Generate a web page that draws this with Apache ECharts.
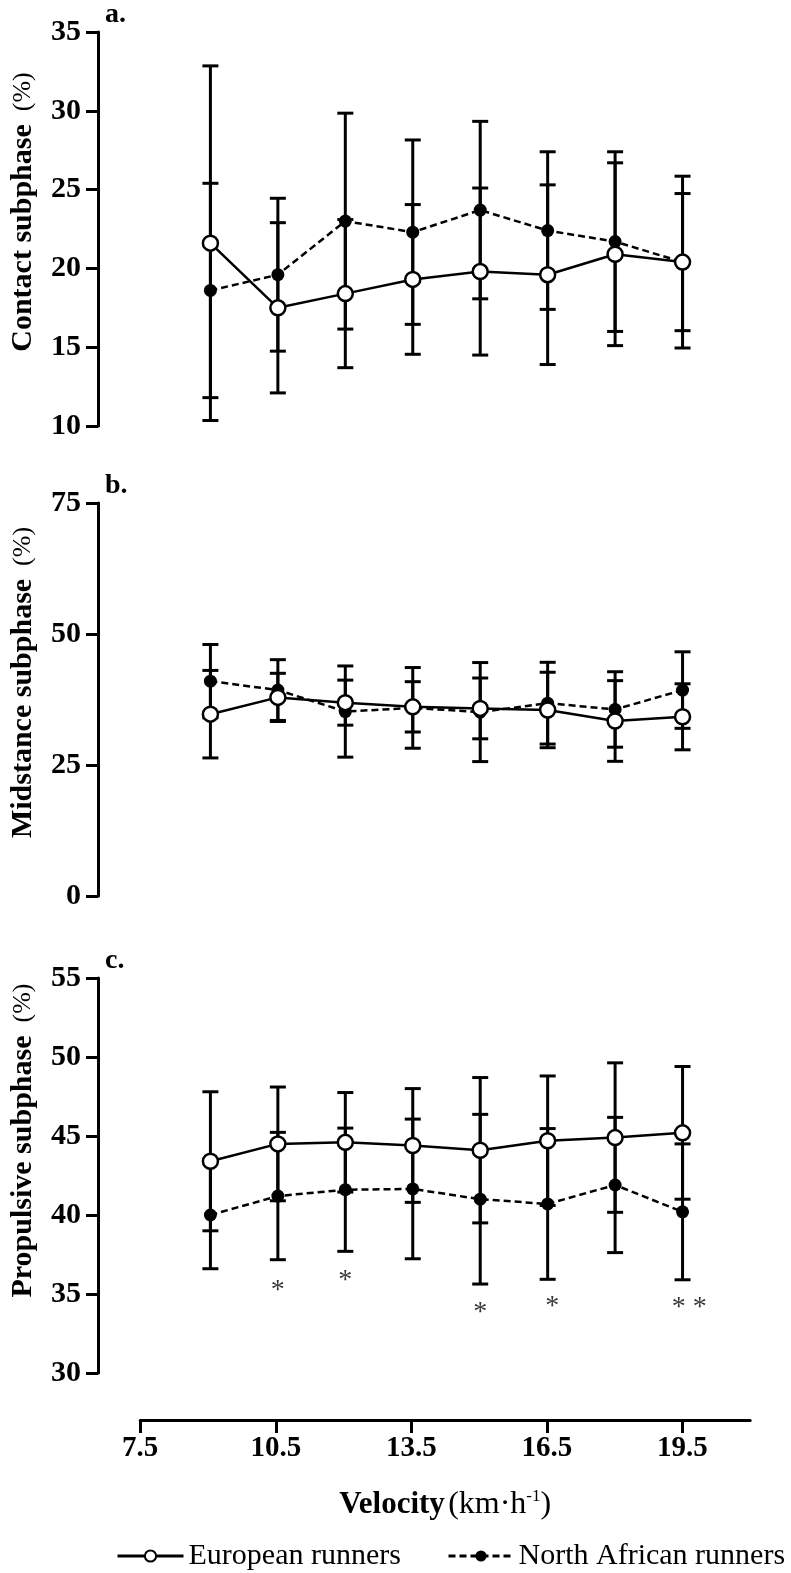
<!DOCTYPE html>
<html>
<head>
<meta charset="utf-8">
<script src="https://cdn.jsdelivr.net/npm/echarts@6/dist/echarts.min.js"></script>
<style>html,body{margin:0;padding:0;background:#fff}#chart{width:791px;height:1573px}</style>
</head>
<body>
<div id="chart"></div>
<script>
// ---- data ----
var velocity = [9, 10.5, 12, 13.5, 15, 16.5, 18, 19.5];
var xTicks = [7.5, 10.5, 13.5, 16.5, 19.5];

var euroContact   = [21.6, 17.5, 18.4, 19.3, 19.8, 19.6, 20.9, 20.4];
var euroContactSD = [11.25, 5.4, 4.7, 4.75, 5.3, 5.7, 5.8, 5.45];
var naContact     = [18.6, 19.6, 23.0, 22.3, 23.7, 22.4, 21.7, 20.4];
var naContactSD   = [6.8, 4.85, 6.85, 5.85, 5.63, 5.0, 5.7, 4.35];

var euroMid   = [34.7, 37.9, 36.9, 36.1, 35.8, 35.5, 33.4, 34.2];
var euroMidSD = [8.35, 4.6, 4.3, 4.8, 5.8, 7.2, 7.7, 6.3];
var naMid     = [41.0, 39.3, 35.2, 35.9, 35.1, 36.8, 35.6, 39.3];
var naMidSD   = [7.0, 5.8, 8.7, 7.7, 9.45, 7.8, 7.2, 7.3];

var euroProp   = [43.4, 44.5, 44.6, 44.4, 44.1, 44.7, 44.9, 45.2];
var euroPropSD = [4.4, 3.6, 3.15, 3.6, 4.6, 4.1, 4.73, 4.2];
var naProp     = [40.0, 41.2, 41.6, 41.65, 41.0, 40.7, 41.9, 40.2];
var naPropSD   = [3.4, 4.03, 3.9, 4.42, 5.37, 4.77, 4.28, 4.3];

var sigX = [10.5, 12, 15, 16.6, 19.65];
var sigY = [35.6, 36.2, 34.2, 34.6, 34.5];
var sigLabel = ['*', '*', '*', '*', '* *'];

var panelLabels = ['a.', 'b.', 'c.'];
var yNames = ['Contact subphase', 'Midstance subphase', 'Propulsive subphase'];
var yMin = [10, 0, 30], yMax = [35, 75, 55], yInt = [5, 25, 5];

// ---- chart ----
var SERIF = '"Liberation Serif", "Times New Roman", serif';
var chart = echarts.init(document.getElementById('chart'), null, {renderer: 'canvas'});

function pairs(m) { return velocity.map(function (v, i) { return [v, m[i]]; }); }
function bars(m, s) { return velocity.map(function (v, i) { return [v, m[i] - s[i], m[i] + s[i]]; }); }

function errRender(params, api) {
  var x = api.value(0);
  var lo = api.coord([x, api.value(1)]);
  var hi = api.coord([x, api.value(2)]);
  var hw = 8;
  var st = {stroke: '#000', lineWidth: 3};
  return {type: 'group', children: [
    {type: 'line', shape: {x1: lo[0], y1: lo[1], x2: hi[0], y2: hi[1]}, style: st},
    {type: 'line', shape: {x1: lo[0] - hw, y1: lo[1], x2: lo[0] + hw, y2: lo[1]}, style: st},
    {type: 'line', shape: {x1: hi[0] - hw, y1: hi[1], x2: hi[0] + hw, y2: hi[1]}, style: st}
  ]};
}

var grids = [
  {left: 95, width: 655, top: 32, height: 394},
  {left: 95, width: 655, top: 503, height: 393},
  {left: 95, width: 655, top: 978, height: 395},
  {left: 140.2, width: 610, top: 1380, height: 40}
];

var namePad = [34, 34, 70];
var xAxes = [], yAxes = [], series = [], titles = [];
for (var g = 0; g < 3; g++) {
  xAxes.push({type: 'value', gridIndex: g, min: 6.5, max: 21, show: false});
  yAxes.push({
    type: 'value', gridIndex: g, min: yMin[g], max: yMax[g], interval: yInt[g],
    axisLine: {show: true, lineStyle: {color: '#000', width: 3}},
    axisTick: {show: true, length: 12, lineStyle: {color: '#000', width: 3}},
    axisLabel: {color: '#000', fontFamily: SERIF, fontWeight: 'bold', fontSize: 30, margin: 17},
    splitLine: {show: false},
    name: '{b|' + yNames[g] + '}{n|  (%)}',
    nameLocation: 'middle', nameGap: 60, nameRotate: 90,
    nameTextStyle: {padding: [0, 0, 0, namePad[g]], rich: {
      b: {fontFamily: SERIF, fontWeight: 'bold', fontSize: 30, color: '#000'},
      n: {fontFamily: SERIF, fontSize: 26, color: '#000'}
    }}
  });
  titles.push({text: panelLabels[g], left: 105, top: grids[g].top - 31, padding: 0,
    textStyle: {fontFamily: SERIF, fontWeight: 'bold', fontSize: 28, color: '#000'}});
}
// shared velocity axis
xAxes.push({
  type: 'value', gridIndex: 3, min: 7.5, max: 21,
  axisLine: {show: true, lineStyle: {color: '#000', width: 3}},
  axisTick: {show: true, length: 13, customValues: xTicks, lineStyle: {color: '#000', width: 3}},
  axisLabel: {customValues: xTicks, color: '#000', fontFamily: SERIF, fontWeight: 'bold', fontSize: 29, margin: 14,
    formatter: function (v) { return v.toFixed(1); }},
  splitLine: {show: false},
  name: '{b|Velocity} {n|(km·h}{s|-1}{n|)}',
  nameLocation: 'middle', nameGap: 68,
  nameTextStyle: {rich: {
    b: {fontFamily: SERIF, fontWeight: 'bold', fontSize: 31, color: '#000'},
    n: {fontFamily: SERIF, fontSize: 32, color: '#000'},
    s: {fontFamily: SERIF, fontSize: 17, color: '#000', padding: [0, 0, 16, 0]}
  }}
});
yAxes.push({type: 'value', gridIndex: 3, min: 0, max: 1, show: false});

var means = [[euroContact, euroContactSD, naContact, naContactSD],
             [euroMid, euroMidSD, naMid, naMidSD],
             [euroProp, euroPropSD, naProp, naPropSD]];
for (var k = 0; k < 3; k++) {
  var m = means[k];
  series.push({type: 'custom', xAxisIndex: k, yAxisIndex: k, renderItem: errRender,
    encode: {x: 0, y: [1, 2]}, data: bars(m[0], m[1]), z: 1, silent: true});
  series.push({type: 'custom', xAxisIndex: k, yAxisIndex: k, renderItem: errRender,
    encode: {x: 0, y: [1, 2]}, data: bars(m[2], m[3]), z: 1, silent: true});
  series.push({name: 'North African runners', type: 'line', xAxisIndex: k, yAxisIndex: k,
    data: pairs(m[2]), symbol: 'circle', symbolSize: 13, z: 3,
    lineStyle: {color: '#000', width: 2.5, type: [7, 4]},
    itemStyle: {color: '#000', borderColor: '#000', borderWidth: 0}});
  series.push({name: 'European runners', type: 'line', xAxisIndex: k, yAxisIndex: k,
    data: pairs(m[0]), symbol: 'circle', symbolSize: 15, z: 4,
    lineStyle: {color: '#000', width: 2.5},
    itemStyle: {color: '#fff', borderColor: '#000', borderWidth: 2.5}});
}
series.push({type: 'scatter', xAxisIndex: 2, yAxisIndex: 2, symbolSize: 0, z: 5,
  data: sigX.map(function (x, i) { return {value: [x, sigY[i]], label: {formatter: sigLabel[i]}}; }),
  label: {show: true, position: 'inside', offset: [0, 6], color: '#000', fontFamily: SERIF, fontSize: 28}});

chart.setOption({
  backgroundColor: '#fff',
  animation: false,
  title: titles,
  grid: grids,
  xAxis: xAxes,
  yAxis: yAxes,
  legend: [
    {data: ['European runners'], left: 111, top: 1536, itemWidth: 66, itemHeight: 14, itemGap: 0,
      lineStyle: {width: 3},
      textStyle: {fontFamily: SERIF, fontSize: 30, color: '#000'}},
    {data: ['North African runners'], left: 442, top: 1536, itemWidth: 65, itemHeight: 14, itemGap: 0,
      lineStyle: {width: 3},
      textStyle: {fontFamily: SERIF, fontSize: 30, color: '#000'}}
  ],
  series: series
});
</script>
</body>
</html>
